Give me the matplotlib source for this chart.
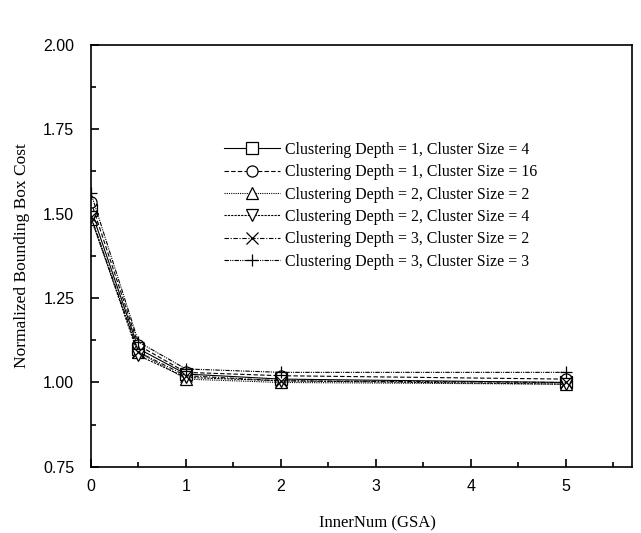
import matplotlib
matplotlib.use('Agg')

from matplotlib import pyplot as plt
from matplotlib.ticker import MultipleLocator

inner_num = [0, 0.5, 1, 2, 5]

cost_d1_s4 = [1.51, 1.10, 1.025, 1.01, 1.00]
cost_d1_s16 = [1.535, 1.11, 1.03, 1.02, 1.01]
cost_d2_s2 = [1.485, 1.09, 1.01, 1.00, 0.995]
cost_d2_s4 = [1.49, 1.08, 1.015, 1.005, 0.995]
cost_d3_s2 = [1.49, 1.09, 1.02, 1.005, 1.00]
cost_d3_s3 = [1.56, 1.12, 1.04, 1.03, 1.03]

labels = ["Clustering Depth = 1, Cluster Size = 4",
          "Clustering Depth = 1, Cluster Size = 16",
          "Clustering Depth = 2, Cluster Size = 2",
          "Clustering Depth = 2, Cluster Size = 4",
          "Clustering Depth = 3, Cluster Size = 2",
          "Clustering Depth = 3, Cluster Size = 3"]

series = [cost_d1_s4, cost_d1_s16, cost_d2_s2, cost_d2_s4, cost_d3_s2, cost_d3_s3]
markers = ['s', 'o', '^', 'v', 'x', '+']
styles = ['-', (0, (4, 2)), (0, (1, 1)), (0, (2, 1)), (0, (4, 1.5, 1, 1.5)), (0, (4, 1, 1, 1, 1, 1))]

serif = ['Liberation Serif', 'DejaVu Serif']
sans = ['Liberation Sans', 'DejaVu Sans']

fig = plt.figure(figsize=(6.41, 5.33), dpi=100)
ax = fig.add_axes([0.142, 0.124, 0.844, 0.792])

for vals, mk, ls, lab in zip(series, markers, styles, labels):
    ax.plot(inner_num, vals, color='black', linestyle=ls, linewidth=0.8,
            marker=mk, markersize=8, markerfacecolor='white',
            markeredgecolor='black', markeredgewidth=0.9, label=lab)

ax.set_xlim(0, 5.7)
ax.set_ylim(0.75, 2.0)
ax.xaxis.set_major_locator(MultipleLocator(1))
ax.xaxis.set_minor_locator(MultipleLocator(0.5))
ax.yaxis.set_minor_locator(MultipleLocator(0.125))
ax.set_yticks([0.75, 1.0, 1.25, 1.5, 1.75, 2.0])
ax.set_yticklabels(["0.75", "1.00", "1.25", "1.50", "1.75", "2.00"])
ax.tick_params(which='both', direction='in', top=False, right=False, width=1.2)
ax.tick_params(which='major', length=6)
ax.tick_params(which='minor', length=3.5)
ax.tick_params(axis='x', which='major', pad=8.5)
ax.tick_params(axis='y', which='major', pad=12)
for t in ax.get_xticklabels() + ax.get_yticklabels():
    t.set_family(sans)
    t.set_fontsize(11.5)
for s in ax.spines.values():
    s.set_linewidth(1.2)

ax.set_xlabel("InnerNum (GSA)", family=serif, fontsize=12)
ax.set_ylabel("Normalized Bounding Box Cost", family=serif, fontsize=12.5)
ax.xaxis.set_label_coords(0.529, -0.116)
ax.yaxis.set_label_coords(-0.112, 0.5)

leg = ax.legend(loc='upper left', bbox_to_anchor=(0.235, 0.785), frameon=False,
                prop={'family': serif, 'size': 11.4}, handlelength=3.5,
                handletextpad=0.3, labelspacing=0.4, borderaxespad=0)

fig.savefig("out.png", dpi=100)
